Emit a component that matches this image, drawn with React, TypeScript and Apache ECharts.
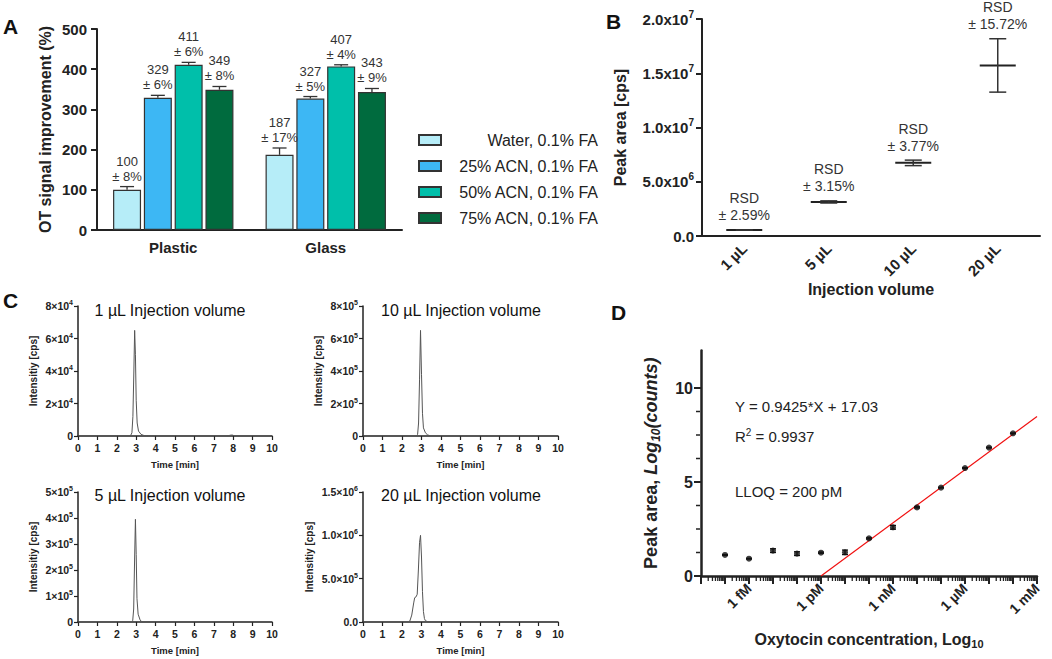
import React, { useEffect, useRef } from 'react';
import * as echarts from 'echarts';

const FONT = '"Liberation Sans", Arial, Helvetica, sans-serif';
const INK = '#222222';

// ---------- Panel A ----------
const aCategories = ['Plastic', 'Glass'];
const aSeriesNames = ['Water, 0.1% FA', '25% ACN, 0.1% FA', '50% ACN, 0.1% FA', '75% ACN, 0.1% FA'];
const aColors = ['#B6EDF8', '#3DB7F4', '#00BFAA', '#006B3E'];
const aWater = [100, 187];
const a25 = [329, 327];
const a50 = [411, 407];
const a75 = [349, 343];
const aWaterErr = [8, 17];
const a25Err = [6, 5];
const a50Err = [6, 4];
const a75Err = [8, 9];

// ---------- Panel B ----------
const bCategories = ['1 µL', '5 µL', '10 µL', '20 µL'];
const bMean = [5.5e5, 3.14e6, 6.74e6, 1.572e7];
const bSD = [1.4e4, 9.9e4, 2.54e5, 2.46e6];
const bRSD = [2.59, 3.15, 3.77, 15.72];

// ---------- Panel C (chromatograms) ----------
const cTitles = ['1 µL Injection volume', '10 µL Injection volume', '5 µL Injection volume', '20 µL Injection volume'];
const c1Time = [0, 2.7, 2.78, 2.83, 2.88, 2.92, 2.96, 3.0, 3.05, 3.12, 3.25, 3.4, 3.6, 7.7, 7.85, 7.95, 8.1, 10];
const c1Int = [0, 0, 2000, 12000, 40000, 65000, 50000, 22000, 8000, 3000, 1000, 300, 0, 0, 500, 600, 0, 0];
const c2Time = [0, 2.72, 2.8, 2.85, 2.9, 2.95, 3.0, 3.05, 3.1, 3.2, 3.3, 3.45, 10];
const c2Int = [0, 0, 10000, 80000, 350000, 650000, 380000, 140000, 50000, 20000, 8000, 0, 0];
const c3Time = [0, 2.75, 2.82, 2.87, 2.92, 2.96, 3.0, 3.04, 3.1, 3.2, 3.3, 10];
const c3Int = [0, 0, 5000, 50000, 250000, 395000, 260000, 90000, 30000, 8000, 0, 0];
const c4Time = [0, 2.3, 2.4, 2.5, 2.6, 2.65, 2.72, 2.78, 2.84, 2.9, 2.95, 3.0, 3.05, 3.1, 3.15, 3.2, 3.3, 3.4, 10];
const c4Int = [0, 0, 10000, 80000, 220000, 280000, 290000, 320000, 600000, 920000, 1000000, 750000, 350000, 120000, 40000, 15000, 5000, 0, 0];
const cYMax = [8e4, 8e5, 5e5, 1.5e6];
const cYInterval = [2e4, 2e5, 1e5, 5e5];
const cYDecimals = [0, 0, 0, 1];

// ---------- Panel D ----------
const dLogConc = [-16, -15, -14, -13, -12, -11, -10, -9, -8, -7, -6, -5, -4];
const dLogCounts = [1.12, 0.92, 1.35, 1.19, 1.24, 1.26, 2.0, 2.59, 3.65, 4.7, 5.74, 6.83, 7.59];
const dErr = [0.02, 0.02, 0.1, 0.1, 0.03, 0.12, 0.03, 0.1, 0.03, 0.02, 0.02, 0.02, 0.02];
const dFitX = [-12, -3];
const dFitY = [0, 8.48];
const dLabelPos = [-15, -12, -9, -6, -3];
const dLabelText = ['1 fM', '1 pM', '1 nM', '1 µM', '1 mM'];
const dYTicks = [0, 5, 10];
const dEquation = 'Y = 0.9425*X + 17.03';
const dR2 = '0.9937';
const dLLOQ = 'LLOQ = 200 pM';

const A_BAR_W = 28;
const A_GAP = 2.8;

const sci = (dec: number, times: string) => (v: number) => {
  if (v === 0) return dec ? (0).toFixed(dec) : '0';
  const exp = Math.floor(Math.log10(v) + 1e-9);
  const man = v / Math.pow(10, exp);
  return `{m|${man.toFixed(dec)}${times}10}{e|${exp}}`;
};

function buildOption() {
  const aVals = [aWater, a25, a50, a75];
  const aErrs = [aWaterErr, a25Err, a50Err, a75Err];

  const grids = [
    { left: 97, top: 29, width: 305, height: 201 },
    { left: 702, top: 19, width: 338, height: 217 },
    { left: 78, top: 306, width: 194, height: 130 },
    { left: 363, top: 306, width: 195, height: 130 },
    { left: 78, top: 492, width: 194, height: 130 },
    { left: 363, top: 492, width: 195, height: 130 },
    { left: 701, top: 350.4, width: 336, height: 225.6 },
  ].map((g) => ({ ...g, containLabel: false, outerBoundsMode: 'none' }));

  const boldLabel = (size: number, extra: any = {}) => ({
    fontSize: size, fontWeight: 'bold', color: INK, fontFamily: FONT, ...extra,
  });

  const cRich = {
    m: { fontSize: 10.5, fontWeight: 'bold', color: INK, fontFamily: FONT, lineHeight: 14, verticalAlign: 'middle' },
    e: { fontSize: 7, fontWeight: 'bold', color: INK, fontFamily: FONT, lineHeight: 8, verticalAlign: 'top' },
  };

  const cNameGaps = [40, 40, 40, 49];
  const xAxes: any[] = [
    {
      gridIndex: 0, type: 'category', data: aCategories,
      axisLine: { lineStyle: { color: INK, width: 2 } },
      axisTick: { alignWithLabel: true, length: 6, lineStyle: { color: INK, width: 2 } },
      axisLabel: boldLabel(15, { margin: 10 }),
    },
    {
      gridIndex: 1, type: 'category', data: bCategories,
      axisLine: { lineStyle: { color: INK, width: 2 } },
      axisTick: { alignWithLabel: true, length: 6, lineStyle: { color: INK, width: 2 } },
      axisLabel: boldLabel(15, { margin: 10, rotate: 45 }),
      name: 'Injection volume', nameLocation: 'middle', nameGap: 43,
      nameTextStyle: boldLabel(16),
    },
    ...[2, 3, 4, 5].map((g) => ({
      gridIndex: g, type: 'value', min: 0, max: 10, interval: 1,
      splitLine: { show: false },
      axisLine: { onZero: false, lineStyle: { color: INK, width: 1.5 } },
      axisTick: { length: 4, lineStyle: { color: INK, width: 1.2 } },
      axisLabel: boldLabel(10.5, { margin: 6 }),
      name: 'Time [min]', nameLocation: 'middle', nameGap: 23,
      nameTextStyle: boldLabel(9.5),
    })),
    {
      gridIndex: 6, type: 'value', min: -17, max: -3, interval: 1,
      splitLine: { show: false },
      axisLine: { onZero: false, lineStyle: { color: INK, width: 2.5 } },
      axisTick: { length: 8, lineStyle: { color: INK, width: 2 } },
      axisLabel: boldLabel(14, {
        margin: 10, rotate: 45,
        formatter: (v: number) => {
          const i = dLabelPos.indexOf(Math.round(v));
          return i >= 0 ? dLabelText[i] : '';
        },
      }),
      name: '{b|Oxytocin concentration, Log}{s|10}', nameLocation: 'middle', nameGap: 53,
      nameTextStyle: {
        rich: {
          b: { fontSize: 16, fontWeight: 'bold', color: INK, fontFamily: FONT, lineHeight: 20, verticalAlign: 'middle' },
          s: { fontSize: 11, fontWeight: 'bold', color: INK, fontFamily: FONT, lineHeight: 10, verticalAlign: 'bottom' },
        },
      },
    },
  ];

  const yAxes: any[] = [
    {
      gridIndex: 0, type: 'value', min: 0, max: 500, interval: 100,
      splitLine: { show: false },
      axisLine: { show: true, lineStyle: { color: INK, width: 2 } },
      axisTick: { show: true, length: 6, lineStyle: { color: INK, width: 2 } },
      axisLabel: boldLabel(15, { margin: 10 }),
      name: 'OT signal improvement (%)', nameLocation: 'middle', nameGap: 44,
      nameTextStyle: boldLabel(16),
    },
    {
      gridIndex: 1, type: 'value', min: 0, max: 2e7, interval: 5e6,
      splitLine: { show: false },
      axisLine: { show: true, lineStyle: { color: INK, width: 2 } },
      axisTick: { show: true, length: 6, lineStyle: { color: INK, width: 2 } },
      axisLabel: {
        margin: 8, color: INK, fontFamily: FONT, fontWeight: 'bold', fontSize: 15,
        formatter: (v: number) => (v === 0 ? '{m|0.0}' : sci(1, 'x')(v)),
        rich: {
          m: { fontSize: 15, fontWeight: 'bold', color: INK, fontFamily: FONT, lineHeight: 20, verticalAlign: 'middle' },
          e: { fontSize: 10, fontWeight: 'bold', color: INK, fontFamily: FONT, lineHeight: 10, verticalAlign: 'top' },
        },
      },
      name: 'Peak area [cps]', nameLocation: 'middle', nameGap: 74,
      nameTextStyle: boldLabel(16),
    },
    ...[0, 1, 2, 3].map((k) => ({
      gridIndex: k + 2, type: 'value', min: 0, max: cYMax[k], interval: cYInterval[k],
      splitLine: { show: false },
      axisLine: { show: true, lineStyle: { color: INK, width: 1.5 } },
      axisTick: { show: true, length: 4, lineStyle: { color: INK, width: 1.2 } },
      axisLabel: {
        margin: 5, color: INK, fontFamily: FONT, fontWeight: 'bold', fontSize: 10.5,
        formatter: (v: number) => {
          const s = sci(cYDecimals[k], '×')(v);
          return v === 0 ? `{m|${s}}` : s;
        },
        rich: cRich,
      },
      name: 'Intensitiy [cps]', nameLocation: 'middle', nameGap: cNameGaps[k],
      nameTextStyle: boldLabel(10),
    })),
    {
      gridIndex: 6, type: 'value', min: 0, max: 12, interval: 5,
      splitLine: { show: false },
      axisLine: { show: true, onZero: false, lineStyle: { color: INK, width: 2.5 } },
      axisTick: { show: true, length: 7, customValues: dYTicks, lineStyle: { color: INK, width: 2 } },
      minorTick: { show: false },
      axisLabel: boldLabel(16, { margin: 8, customValues: dYTicks }),
      name: '{b|Peak area, }{i|Log}{s|10}{i|(counts)}', nameLocation: 'middle', nameGap: 39,
      nameTextStyle: {
        rich: {
          b: { fontSize: 18, fontWeight: 'bold', color: INK, fontFamily: FONT, lineHeight: 22, verticalAlign: 'middle' },
          i: { fontSize: 18, fontWeight: 'bold', fontStyle: 'italic', color: INK, fontFamily: FONT, lineHeight: 22, verticalAlign: 'middle' },
          s: { fontSize: 12, fontWeight: 'bold', fontStyle: 'italic', color: INK, fontFamily: FONT, lineHeight: 12, verticalAlign: 'bottom' },
        },
      },
    },
  ];

  const series: any[] = [];

  // Panel A bars
  aSeriesNames.forEach((name, s) => {
    series.push({
      name, type: 'bar', xAxisIndex: 0, yAxisIndex: 0,
      data: aVals[s], barWidth: A_BAR_W, barGap: '10%',
      itemStyle: { color: aColors[s], borderColor: '#333', borderWidth: 1.2 },
    });
  });

  // Panel A error bars + labels
  const aErrData: number[][] = [];
  aVals.forEach((vals, s) => vals.forEach((v, c) => aErrData.push([c, s, v, aErrs[s][c]])));
  series.push({
    type: 'custom', xAxisIndex: 0, yAxisIndex: 0, data: aErrData, encode: { x: 0, y: 2 }, z: 5,
    renderItem: (_p: any, api: any) => {
      const c = api.value(0), s = api.value(1), v = api.value(2), e = api.value(3);
      const base = api.coord([c, v]);
      const top = api.coord([c, v + e]);
      const x = base[0] + (s - 1.5) * (A_BAR_W + A_GAP);
      const st = { stroke: '#333', lineWidth: 1.3 };
      return {
        type: 'group',
        children: [
          { type: 'line', shape: { x1: x, y1: base[1], x2: x, y2: top[1] }, style: st },
          { type: 'line', shape: { x1: x - 7, y1: top[1], x2: x + 7, y2: top[1] }, style: st },
          {
            type: 'text', x, y: top[1] - 3,
            style: { text: `${v}\n± ${e}%`, align: 'center', verticalAlign: 'bottom', fontSize: 13, lineHeight: 15, fill: '#333', fontFamily: FONT },
          },
        ],
      };
    },
  });

  // Panel B mean ± SD
  series.push({
    type: 'custom', xAxisIndex: 1, yAxisIndex: 1,
    data: bMean.map((m, i) => [i, m, bSD[i], bRSD[i]]), encode: { x: 0, y: 1 },
    renderItem: (_p: any, api: any) => {
      const i = api.value(0), m = api.value(1), sd = api.value(2), rsd = api.value(3);
      const c = api.coord([i, m]);
      const t = api.coord([i, m + sd]);
      const b = api.coord([i, m - sd]);
      const st = { stroke: '#333', lineWidth: 1.5 };
      return {
        type: 'group',
        children: [
          { type: 'line', shape: { x1: c[0] - 18, y1: c[1], x2: c[0] + 18, y2: c[1] }, style: { stroke: '#222', lineWidth: 2 } },
          { type: 'line', shape: { x1: c[0], y1: t[1], x2: c[0], y2: b[1] }, style: st },
          { type: 'line', shape: { x1: c[0] - 8.5, y1: t[1], x2: c[0] + 8.5, y2: t[1] }, style: st },
          { type: 'line', shape: { x1: c[0] - 8.5, y1: b[1], x2: c[0] + 8.5, y2: b[1] }, style: st },
          {
            type: 'text', x: c[0], y: t[1] - 6,
            style: { text: `RSD\n± ${rsd.toFixed(2)}%`, align: 'center', verticalAlign: 'bottom', fontSize: 14, lineHeight: 17, fill: '#333', fontFamily: FONT },
          },
        ],
      };
    },
  });

  // Panel C chromatograms
  const cTimes = [c1Time, c2Time, c3Time, c4Time];
  const cInts = [c1Int, c2Int, c3Int, c4Int];
  cTimes.forEach((ts, k) => {
    series.push({
      type: 'line', xAxisIndex: k + 2, yAxisIndex: k + 2,
      data: ts.map((t, j) => [t, cInts[k][j]]),
      showSymbol: false, symbol: 'none',
      lineStyle: { color: '#555', width: 1 },
    });
  });

  // Panel D fit line
  series.push({
    type: 'line', xAxisIndex: 6, yAxisIndex: 6,
    data: dFitX.map((x, i) => [x, dFitY[i]]),
    showSymbol: false, symbol: 'none',
    lineStyle: { color: '#F01010', width: 1.2 },
    z: 3,
  });
  // Panel D error bars
  series.push({
    type: 'custom', xAxisIndex: 6, yAxisIndex: 6,
    data: dLogConc.map((x, i) => [x, dLogCounts[i], dErr[i]]), encode: { x: 0, y: 1 }, z: 4,
    renderItem: (_p: any, api: any) => {
      const x = api.value(0), y = api.value(1), e = api.value(2);
      const t = api.coord([x, y + e]);
      const b = api.coord([x, y - e]);
      const st = { stroke: '#111', lineWidth: 1.3 };
      return {
        type: 'group',
        children: [
          { type: 'line', shape: { x1: t[0], y1: t[1], x2: b[0], y2: b[1] }, style: st },
          { type: 'line', shape: { x1: t[0] - 3, y1: t[1], x2: t[0] + 3, y2: t[1] }, style: st },
          { type: 'line', shape: { x1: b[0] - 3, y1: b[1], x2: b[0] + 3, y2: b[1] }, style: st },
        ],
      };
    },
  });
  // Panel D points
  series.push({
    type: 'scatter', xAxisIndex: 6, yAxisIndex: 6,
    data: dLogConc.map((x, i) => [x, dLogCounts[i]]),
    symbolSize: 6, itemStyle: { color: '#111' }, z: 5,
  });
  // Panel D logarithmic minor ticks on the x axis
  const decades: number[][] = [];
  for (let d = -17; d < -3; d++) decades.push([d, 0]);
  series.push({
    type: 'custom', xAxisIndex: 6, yAxisIndex: 6, data: decades, encode: { x: 0, y: 1 }, clip: false, silent: true,
    renderItem: (_p: any, api: any) => {
      const d = api.value(0);
      const y0 = api.coord([d, 0])[1];
      const children: any[] = [];
      for (let k = 2; k <= 9; k++) {
        const x = api.coord([d + Math.log10(k), 0])[0];
        children.push({ type: 'line', shape: { x1: x, y1: y0 + 1, x2: x, y2: y0 + 5 }, style: { stroke: INK, lineWidth: 1.3 } });
      }
      return { type: 'group', children };
    },
  });
  // Panel D minor ticks on the y axis (three between each pair of labelled ticks)
  const yMinor: number[][] = [];
  for (let i = 0; i < dYTicks.length - 1; i++) yMinor.push([-17, dYTicks[i], dYTicks[i + 1]]);
  series.push({
    type: 'custom', xAxisIndex: 6, yAxisIndex: 6, data: yMinor, encode: { x: 0, y: 1 }, clip: false, silent: true,
    renderItem: (_p: any, api: any) => {
      const x0 = api.value(0), lo = api.value(1), hi = api.value(2);
      const children: any[] = [];
      for (let k = 1; k <= 3; k++) {
        const p = api.coord([x0, lo + ((hi - lo) * k) / 4]);
        children.push({ type: 'line', shape: { x1: p[0] - 1, y1: p[1], x2: p[0] - 5, y2: p[1] }, style: { stroke: INK, lineWidth: 1.5 } });
      }
      return { type: 'group', children };
    },
  });

  const letter = (t: string, x: number, y: number) => ({
    type: 'text', x, y,
    style: { text: t, fontSize: 21, fontWeight: 'bold', fill: '#111', fontFamily: FONT, verticalAlign: 'middle', align: 'left' },
  });
  const cTitlePos = [[170, 310], [461, 310], [170, 495], [461, 495]];
  const annot = (text: string, x: number, y: number, rich?: any) => ({
    type: 'text', x, y,
    style: { text, fontSize: 15, fill: INK, fontFamily: FONT, verticalAlign: 'middle', align: 'left', rich },
  });

  const graphic: any[] = [
    letter('A', 3, 26),
    letter('B', 606, 21),
    letter('C', 3, 300),
    letter('D', 611, 312),
    ...cTitles.map((t, i) => ({
      type: 'text', x: cTitlePos[i][0], y: cTitlePos[i][1],
      style: { text: t, fontSize: 16, fill: '#111', fontFamily: FONT, align: 'center', verticalAlign: 'middle' },
    })),
    annot(dEquation, 735, 406),
    annot(`{n|R}{s|2}{n| = ${dR2}}`, 735, 436, {
      n: { fontSize: 15, fill: INK, color: INK, fontFamily: FONT, lineHeight: 18, verticalAlign: 'middle' },
      s: { fontSize: 10, fill: INK, color: INK, fontFamily: FONT, lineHeight: 10, verticalAlign: 'top' },
    }),
    annot(dLLOQ, 735, 491),
  ];

  return {
    animation: false,
    backgroundColor: '#ffffff',
    textStyle: { fontFamily: FONT },
    grid: grids,
    xAxis: xAxes,
    yAxis: yAxes,
    legend: {
      data: aSeriesNames,
      orient: 'vertical', left: 413, top: 127,
      itemWidth: 22, itemHeight: 10, itemGap: 10, icon: 'rect',
      selectedMode: false,
      formatter: (n: string) => `{r|${n}}`,
      textStyle: {
        fontSize: 16, color: INK, fontFamily: FONT,
        rich: { r: { width: 152, align: 'right', fontSize: 16, color: INK, fontFamily: FONT } },
      },
    },
    graphic,
    series,
  };
}

export default function App() {
  const ref = useRef<HTMLDivElement>(null);
  useEffect(() => {
    if (!ref.current) return;
    const chart = echarts.init(ref.current, undefined, { renderer: 'svg' });
    chart.setOption(buildOption() as any);
    return () => chart.dispose();
  }, []);
  return (
    <div
      ref={ref}
      style={{ position: 'absolute', left: 0, top: 0, width: 1052, height: 659, background: '#fff' }}
    />
  );
}
